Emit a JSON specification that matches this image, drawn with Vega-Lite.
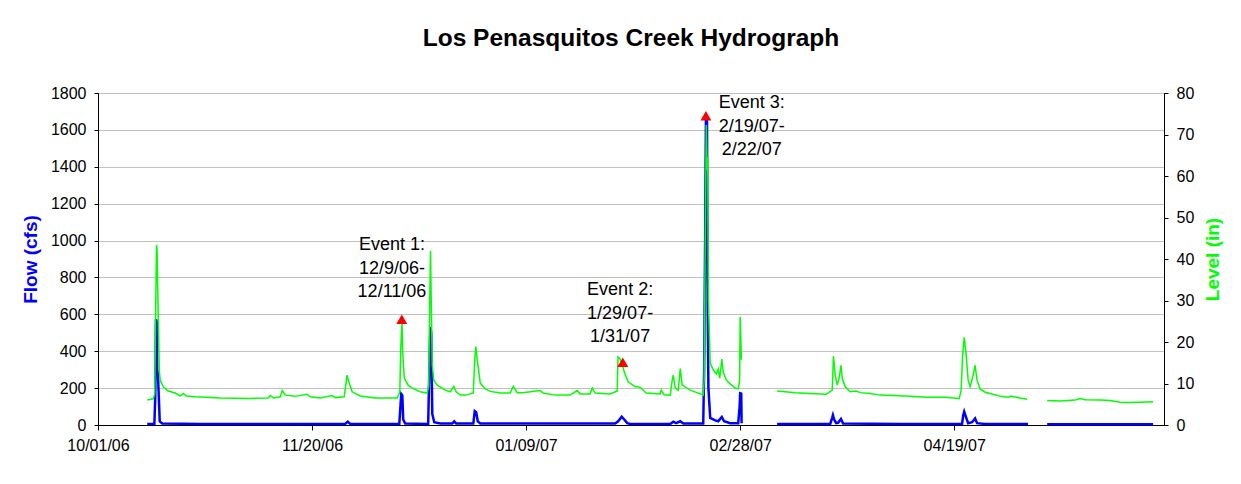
{
"$schema": "https://vega.github.io/schema/vega-lite/v6.json",
"width": 1066, "height": 332,
"autosize": {"type": "none"},
"padding": {"left": 98, "top": 93, "right": 77, "bottom": 59},
"background": "white",
"config": {"font": "Liberation Sans", "view": {"stroke": "#000", "strokeWidth": 1},
  "axis": {"labelFont": "Liberation Sans", "titleFont": "Liberation Sans", "labelColor": "#000", "tickColor": "#000", "domainColor": "#000", "labelFontSize": 16, "labelFontWeight": "normal"}},
"title": {"text": "Los Penasquitos Creek Hydrograph", "fontSize": 24.5, "fontWeight": "bold", "font": "Liberation Sans", "color": "#000", "offset": 34, "anchor": "middle"},
"datasets": {
"flow": [
{"t":"2006-10-12T12:00","flow":5,"seg":1},{"t":"2006-10-14T04:00","flow":6,"seg":1},{"t":"2006-10-14T09:00","flow":150,"seg":1},{"t":"2006-10-14T13:00","flow":573,"seg":1},{"t":"2006-10-14T18:00","flow":560,"seg":1},{"t":"2006-10-14T20:00","flow":300,"seg":1},{"t":"2006-10-15T00:00","flow":276,"seg":1},{"t":"2006-10-15T05:00","flow":150,"seg":1},{"t":"2006-10-15T10:00","flow":20,"seg":1},{"t":"2006-10-16T00:00","flow":8,"seg":1},{"t":"2006-10-24T21:00","flow":5,"seg":1},{"t":"2006-11-27T18:00","flow":6,"seg":1},{"t":"2006-11-28T08:00","flow":18,"seg":1},{"t":"2006-11-28T22:00","flow":6,"seg":1},{"t":"2006-12-10T09:00","flow":6,"seg":1},{"t":"2006-12-10T14:00","flow":80,"seg":1},{"t":"2006-12-10T20:00","flow":168,"seg":1},{"t":"2006-12-11T02:00","flow":160,"seg":1},{"t":"2006-12-11T07:00","flow":30,"seg":1},{"t":"2006-12-11T18:00","flow":8,"seg":1},{"t":"2006-12-17T03:00","flow":6,"seg":1},{"t":"2006-12-17T09:00","flow":276,"seg":1},{"t":"2006-12-17T15:00","flow":530,"seg":1},{"t":"2006-12-17T20:00","flow":500,"seg":1},{"t":"2006-12-18T02:00","flow":60,"seg":1},{"t":"2006-12-18T13:00","flow":15,"seg":1},{"t":"2006-12-19T23:00","flow":8,"seg":1},{"t":"2006-12-22T18:00","flow":8,"seg":1},{"t":"2006-12-23T05:00","flow":20,"seg":1},{"t":"2006-12-23T16:00","flow":8,"seg":1},{"t":"2006-12-27T16:00","flow":8,"seg":1},{"t":"2006-12-28T00:00","flow":76,"seg":1},{"t":"2006-12-28T08:00","flow":70,"seg":1},{"t":"2006-12-28T17:00","flow":20,"seg":1},{"t":"2006-12-29T07:00","flow":8,"seg":1},{"t":"2007-01-29T19:00","flow":8,"seg":1},{"t":"2007-01-30T12:00","flow":20,"seg":1},{"t":"2007-01-31T08:00","flow":45,"seg":1},{"t":"2007-01-31T22:00","flow":30,"seg":1},{"t":"2007-02-01T15:00","flow":10,"seg":1},{"t":"2007-02-02T08:00","flow":6,"seg":1},{"t":"2007-02-11T16:00","flow":6,"seg":1},{"t":"2007-02-12T09:00","flow":18,"seg":1},{"t":"2007-02-13T01:00","flow":10,"seg":1},{"t":"2007-02-14T00:00","flow":20,"seg":1},{"t":"2007-02-14T17:00","flow":8,"seg":1},{"t":"2007-02-19T09:00","flow":8,"seg":1},{"t":"2007-02-19T14:00","flow":300,"seg":1},{"t":"2007-02-19T20:00","flow":1041,"seg":1},{"t":"2007-02-20T00:00","flow":1654,"seg":1},{"t":"2007-02-20T06:00","flow":1650,"seg":1},{"t":"2007-02-20T10:00","flow":624,"seg":1},{"t":"2007-02-20T14:00","flow":200,"seg":1},{"t":"2007-02-21T00:00","flow":38,"seg":1},{"t":"2007-02-22T04:00","flow":25,"seg":1},{"t":"2007-02-22T21:00","flow":20,"seg":1},{"t":"2007-02-23T17:00","flow":43,"seg":1},{"t":"2007-02-24T06:00","flow":20,"seg":1},{"t":"2007-02-25T16:00","flow":10,"seg":1},{"t":"2007-02-27T13:00","flow":10,"seg":1},{"t":"2007-02-27T21:00","flow":100,"seg":1},{"t":"2007-02-28T00:00","flow":172,"seg":1},{"t":"2007-02-28T06:00","flow":170,"seg":1},{"t":"2007-02-28T08:00","flow":10,"seg":1},
{"t":"2007-03-08T15:00","flow":6,"seg":2},{"t":"2007-03-21T01:00","flow":6,"seg":2},{"t":"2007-03-21T12:00","flow":40,"seg":2},{"t":"2007-03-21T16:00","flow":54,"seg":2},{"t":"2007-03-21T23:00","flow":30,"seg":2},{"t":"2007-03-22T10:00","flow":10,"seg":2},{"t":"2007-03-22T21:00","flow":12,"seg":2},{"t":"2007-03-23T13:00","flow":33,"seg":2},{"t":"2007-03-24T01:00","flow":8,"seg":2},{"t":"2007-04-06T09:00","flow":5,"seg":2},{"t":"2007-04-20T20:00","flow":6,"seg":2},{"t":"2007-04-21T02:00","flow":50,"seg":2},{"t":"2007-04-21T08:00","flow":72,"seg":2},{"t":"2007-04-21T19:00","flow":40,"seg":2},{"t":"2007-04-22T06:00","flow":10,"seg":2},{"t":"2007-04-23T04:00","flow":15,"seg":2},{"t":"2007-04-23T21:00","flow":36,"seg":2},{"t":"2007-04-24T08:00","flow":10,"seg":2},{"t":"2007-04-26T05:00","flow":6,"seg":2},{"t":"2007-05-06T06:00","flow":5,"seg":2},
{"t":"2007-05-10T17:00","flow":4,"seg":3},{"t":"2007-05-23T02:00","flow":4,"seg":3},{"t":"2007-06-04T11:00","flow":4,"seg":3}
],
"level": [
{"t":"2006-10-12T12:00","level":6.0,"seg":1},{"t":"2006-10-13T22:00","level":6.3,"seg":1},{"t":"2006-10-14T06:00","level":7.5,"seg":1},{"t":"2006-10-14T12:00","level":30.1,"seg":1},{"t":"2006-10-14T16:00","level":43.4,"seg":1},{"t":"2006-10-14T19:00","level":42.2,"seg":1},{"t":"2006-10-14T23:00","level":32.5,"seg":1},{"t":"2006-10-15T03:00","level":22.9,"seg":1},{"t":"2006-10-15T08:00","level":12.8,"seg":1},{"t":"2006-10-15T13:00","level":10.8,"seg":1},{"t":"2006-10-16T06:00","level":9.2,"seg":1},{"t":"2006-10-17T10:00","level":8.2,"seg":1},{"t":"2006-10-19T01:00","level":7.7,"seg":1},{"t":"2006-10-20T05:00","level":7.0,"seg":1},{"t":"2006-10-20T22:00","level":7.6,"seg":1},{"t":"2006-10-21T15:00","level":7.0,"seg":1},{"t":"2006-10-23T17:00","level":6.8,"seg":1},{"t":"2006-10-29T13:00","level":6.5,"seg":1},{"t":"2006-11-05T14:00","level":6.4,"seg":1},{"t":"2006-11-09T19:00","level":6.5,"seg":1},{"t":"2006-11-10T06:00","level":7.1,"seg":1},{"t":"2006-11-10T23:00","level":6.5,"seg":1},{"t":"2006-11-12T14:00","level":6.8,"seg":1},{"t":"2006-11-13T01:00","level":8.3,"seg":1},{"t":"2006-11-13T18:00","level":7.2,"seg":1},{"t":"2006-11-16T02:00","level":6.9,"seg":1},{"t":"2006-11-18T21:00","level":7.4,"seg":1},{"t":"2006-11-19T14:00","level":6.8,"seg":1},{"t":"2006-11-21T22:00","level":6.5,"seg":1},{"t":"2006-11-24T17:00","level":7.1,"seg":1},{"t":"2006-11-25T10:00","level":6.6,"seg":1},{"t":"2006-11-27T12:00","level":6.8,"seg":1},{"t":"2006-11-27T21:00","level":9.6,"seg":1},{"t":"2006-11-28T04:00","level":12.0,"seg":1},{"t":"2006-11-28T14:00","level":10.4,"seg":1},{"t":"2006-11-29T09:00","level":8.0,"seg":1},{"t":"2006-12-01T06:00","level":7.0,"seg":1},{"t":"2006-12-04T18:00","level":6.5,"seg":1},{"t":"2006-12-09T22:00","level":6.5,"seg":1},{"t":"2006-12-10T12:00","level":8.0,"seg":1},{"t":"2006-12-10T17:00","level":18.1,"seg":1},{"t":"2006-12-11T00:00","level":24.8,"seg":1},{"t":"2006-12-11T04:00","level":17.6,"seg":1},{"t":"2006-12-11T13:00","level":11.3,"seg":1},{"t":"2006-12-12T11:00","level":9.6,"seg":1},{"t":"2006-12-13T10:00","level":8.9,"seg":1},{"t":"2006-12-15T06:00","level":8.0,"seg":1},{"t":"2006-12-16T22:00","level":7.7,"seg":1},{"t":"2006-12-17T06:00","level":9.6,"seg":1},{"t":"2006-12-17T12:00","level":30.1,"seg":1},{"t":"2006-12-17T16:00","level":41.9,"seg":1},{"t":"2006-12-17T20:00","level":30.1,"seg":1},{"t":"2006-12-18T02:00","level":14.5,"seg":1},{"t":"2006-12-18T10:00","level":10.8,"seg":1},{"t":"2006-12-19T06:00","level":9.6,"seg":1},{"t":"2006-12-21T03:00","level":8.4,"seg":1},{"t":"2006-12-22T07:00","level":8.0,"seg":1},{"t":"2006-12-23T02:00","level":9.3,"seg":1},{"t":"2006-12-23T16:00","level":8.0,"seg":1},{"t":"2006-12-24T15:00","level":7.2,"seg":1},{"t":"2006-12-26T00:00","level":7.2,"seg":1},{"t":"2006-12-27T16:00","level":7.7,"seg":1},{"t":"2006-12-28T00:00","level":15.7,"seg":1},{"t":"2006-12-28T06:00","level":18.9,"seg":1},{"t":"2006-12-28T14:00","level":15.7,"seg":1},{"t":"2006-12-29T07:00","level":10.1,"seg":1},{"t":"2006-12-30T11:00","level":8.7,"seg":1},{"t":"2006-12-31T15:00","level":8.1,"seg":1},{"t":"2007-01-02T23:00","level":7.7,"seg":1},{"t":"2007-01-05T07:00","level":7.7,"seg":1},{"t":"2007-01-06T00:00","level":9.3,"seg":1},{"t":"2007-01-06T22:00","level":7.8,"seg":1},{"t":"2007-01-08T02:00","level":7.8,"seg":1},{"t":"2007-01-12T07:00","level":8.3,"seg":1},{"t":"2007-01-13T00:00","level":7.7,"seg":1},{"t":"2007-01-15T19:00","level":7.2,"seg":1},{"t":"2007-01-19T07:00","level":7.2,"seg":1},{"t":"2007-01-20T22:00","level":8.3,"seg":1},{"t":"2007-01-21T15:00","level":7.5,"seg":1},{"t":"2007-01-23T23:00","level":7.5,"seg":1},{"t":"2007-01-24T11:00","level":8.9,"seg":1},{"t":"2007-01-25T03:00","level":7.7,"seg":1},{"t":"2007-01-28T15:00","level":7.5,"seg":1},{"t":"2007-01-30T07:00","level":8.2,"seg":1},{"t":"2007-01-30T11:00","level":16.4,"seg":1},{"t":"2007-01-30T21:00","level":16.1,"seg":1},{"t":"2007-01-31T11:00","level":14.5,"seg":1},{"t":"2007-01-31T22:00","level":12.8,"seg":1},{"t":"2007-02-01T20:00","level":10.4,"seg":1},{"t":"2007-02-03T12:00","level":9.2,"seg":1},{"t":"2007-02-04T04:00","level":9.2,"seg":1},{"t":"2007-02-04T21:00","level":8.9,"seg":1},{"t":"2007-02-06T00:00","level":7.7,"seg":1},{"t":"2007-02-09T08:00","level":7.5,"seg":1},{"t":"2007-02-09T13:00","level":8.4,"seg":1},{"t":"2007-02-10T06:00","level":7.3,"seg":1},{"t":"2007-02-11T16:00","level":7.2,"seg":1},{"t":"2007-02-12T03:00","level":10.8,"seg":1},{"t":"2007-02-12T09:00","level":12.0,"seg":1},{"t":"2007-02-12T20:00","level":8.9,"seg":1},{"t":"2007-02-13T13:00","level":8.4,"seg":1},{"t":"2007-02-14T00:00","level":13.6,"seg":1},{"t":"2007-02-14T11:00","level":9.6,"seg":1},{"t":"2007-02-16T08:00","level":8.4,"seg":1},{"t":"2007-02-18T16:00","level":7.5,"seg":1},{"t":"2007-02-19T09:00","level":7.2,"seg":1},{"t":"2007-02-19T14:00","level":10.8,"seg":1},{"t":"2007-02-19T20:00","level":44.6,"seg":1},{"t":"2007-02-20T02:00","level":72.3,"seg":1},{"t":"2007-02-20T07:00","level":61.4,"seg":1},{"t":"2007-02-20T10:00","level":64.6,"seg":1},{"t":"2007-02-20T14:00","level":30.1,"seg":1},{"t":"2007-02-21T00:00","level":14.9,"seg":1},{"t":"2007-02-21T17:00","level":13.3,"seg":1},{"t":"2007-02-22T10:00","level":12.3,"seg":1},{"t":"2007-02-22T21:00","level":13.5,"seg":1},{"t":"2007-02-23T05:00","level":11.3,"seg":1},{"t":"2007-02-23T14:00","level":14.5,"seg":1},{"t":"2007-02-23T17:00","level":15.9,"seg":1},{"t":"2007-02-24T01:00","level":12.8,"seg":1},{"t":"2007-02-24T18:00","level":10.8,"seg":1},{"t":"2007-02-25T16:00","level":9.9,"seg":1},{"t":"2007-02-26T20:00","level":8.9,"seg":1},{"t":"2007-02-27T13:00","level":8.7,"seg":1},{"t":"2007-02-27T21:00","level":10.8,"seg":1},{"t":"2007-02-28T00:00","level":26.0,"seg":1},{"t":"2007-02-28T04:00","level":20.5,"seg":1},{"t":"2007-02-28T07:00","level":15.7,"seg":1},
{"t":"2007-03-08T15:00","level":8.2,"seg":2},{"t":"2007-03-10T12:00","level":8.0,"seg":2},{"t":"2007-03-12T20:00","level":7.8,"seg":2},{"t":"2007-03-16T08:00","level":7.6,"seg":2},{"t":"2007-03-20T02:00","level":7.4,"seg":2},{"t":"2007-03-21T12:00","level":8.4,"seg":2},{"t":"2007-03-21T19:00","level":16.6,"seg":2},{"t":"2007-03-22T05:00","level":12.0,"seg":2},{"t":"2007-03-22T16:00","level":9.6,"seg":2},{"t":"2007-03-23T03:00","level":11.3,"seg":2},{"t":"2007-03-23T13:00","level":14.4,"seg":2},{"t":"2007-03-23T20:00","level":11.3,"seg":2},{"t":"2007-03-24T13:00","level":9.2,"seg":2},{"t":"2007-03-25T17:00","level":8.0,"seg":2},{"t":"2007-03-27T02:00","level":8.2,"seg":2},{"t":"2007-03-28T01:00","level":7.8,"seg":2},{"t":"2007-03-30T09:00","level":7.6,"seg":2},{"t":"2007-04-01T17:00","level":7.2,"seg":2},{"t":"2007-04-04T18:00","level":7.1,"seg":2},{"t":"2007-04-08T17:00","level":6.9,"seg":2},{"t":"2007-04-12T16:00","level":6.7,"seg":2},{"t":"2007-04-16T21:00","level":6.7,"seg":2},{"t":"2007-04-20T04:00","level":6.4,"seg":2},{"t":"2007-04-20T15:00","level":8.4,"seg":2},{"t":"2007-04-20T23:00","level":16.9,"seg":2},{"t":"2007-04-21T08:00","level":21.1,"seg":2},{"t":"2007-04-21T19:00","level":16.9,"seg":2},{"t":"2007-04-22T06:00","level":10.8,"seg":2},{"t":"2007-04-22T17:00","level":9.2,"seg":2},{"t":"2007-04-23T10:00","level":12.0,"seg":2},{"t":"2007-04-23T21:00","level":14.4,"seg":2},{"t":"2007-04-24T08:00","level":10.8,"seg":2},{"t":"2007-04-25T01:00","level":8.7,"seg":2},{"t":"2007-04-26T05:00","level":7.9,"seg":2},{"t":"2007-04-26T22:00","level":7.7,"seg":2},{"t":"2007-04-29T22:00","level":6.9,"seg":2},{"t":"2007-05-01T18:00","level":6.7,"seg":2},{"t":"2007-05-02T05:00","level":7.0,"seg":2},{"t":"2007-05-04T09:00","level":6.5,"seg":2},{"t":"2007-05-06T01:00","level":6.2,"seg":2},
{"t":"2007-05-10T17:00","level":5.9,"seg":3},{"t":"2007-05-13T18:00","level":5.8,"seg":3},{"t":"2007-05-17T06:00","level":6.0,"seg":3},{"t":"2007-05-18T10:00","level":6.4,"seg":3},{"t":"2007-05-19T14:00","level":6.1,"seg":3},{"t":"2007-05-23T02:00","level":6.0,"seg":3},{"t":"2007-05-25T10:00","level":5.9,"seg":3},{"t":"2007-05-27T18:00","level":5.5,"seg":3},{"t":"2007-05-29T09:00","level":5.4,"seg":3},{"t":"2007-06-01T10:00","level":5.5,"seg":3},{"t":"2007-06-04T11:00","level":5.6,"seg":3}
],
"markers": [
{"t":"2006-12-10T23:00","level":25.5},{"t":"2007-01-31T14:00","level":15.1},{"t":"2007-02-20T00:00","level":74.5}
],
"notes": [
{"t":"2006-12-08T16:00","level":43.3,"label":"Event 1:\n12/9/06-\n12/11/06"},
{"t":"2007-01-30T23:00","level":32.5,"label":"Event 2:\n1/29/07-\n1/31/07"},
{"t":"2007-03-02T17:00","level":77.5,"label":"Event 3:\n2/19/07-\n2/22/07"}
]
},
"encoding": {
  "x": {"field": "t", "type": "temporal",
    "scale": {"domain": [{"year": 2006, "month": 10, "date": 1}, {"year": 2007, "month": 6, "date": 7}]},
    "axis": {"values": [{"year": 2006, "month": 10, "date": 1}, {"year": 2006, "month": 11, "date": 20}, {"year": 2007, "month": 1, "date": 9}, {"year": 2007, "month": 2, "date": 28}, {"year": 2007, "month": 4, "date": 19}],
      "format": "%m/%d/%y", "title": null, "grid": false, "tickSize": 5, "labelPadding": 7, "labelFontSize": 16, "labelFlush": false, "labelOverlap": false}}
},
"layer": [
  {"data": {"name": "flow"},
   "mark": {"type": "line", "color": "#0000ff", "strokeWidth": 2.5},
   "encoding": {
     "y": {"field": "flow", "type": "quantitative", "scale": {"domain": [0, 1800]},
       "axis": {"orient": "left", "values": [0, 200, 400, 600, 800, 1000, 1200, 1400, 1600, 1800], "format": "d", "title": "Flow (cfs)", "titleColor": "#0000ff", "titleFontSize": 19, "titleFontWeight": "bold", "titlePadding": 10, "labelFontSize": 16, "tickSize": 4, "labelPadding": 8, "grid": true, "gridColor": "#c0c0c0", "gridWidth": 1}},
     "detail": {"field": "seg", "type": "nominal"}}},
  {"encoding": {
     "y": {"field": "level", "type": "quantitative", "scale": {"domain": [0, 80]},
       "axis": {"orient": "right", "values": [0, 10, 20, 30, 40, 50, 60, 70, 80], "format": "d", "title": "Level (in)", "titleColor": "#00ff00", "titleFontSize": 19, "titleFontWeight": "bold", "titleAngle": -90, "titleBaseline": "top", "titlePadding": 10, "labelFontSize": 16, "tickSize": 4, "labelPadding": 8, "grid": false}}},
   "layer": [
     {"data": {"name": "level"},
      "mark": {"type": "line", "color": "#00ff00", "strokeWidth": 1.5},
      "encoding": {"detail": {"field": "seg", "type": "nominal"}}},
     {"data": {"name": "markers"},
      "mark": {"type": "point", "shape": "triangle-up", "filled": true, "color": "#ff0000", "opacity": 1, "size": 120}},
     {"data": {"name": "notes"},
      "mark": {"type": "text", "font": "Liberation Sans", "fontSize": 18, "lineHeight": 23.5, "align": "center", "baseline": "middle", "lineBreak": "\n", "color": "#000"},
      "encoding": {"text": {"field": "label"}}}
   ]}
],
"resolve": {"scale": {"y": "independent"}}
}
